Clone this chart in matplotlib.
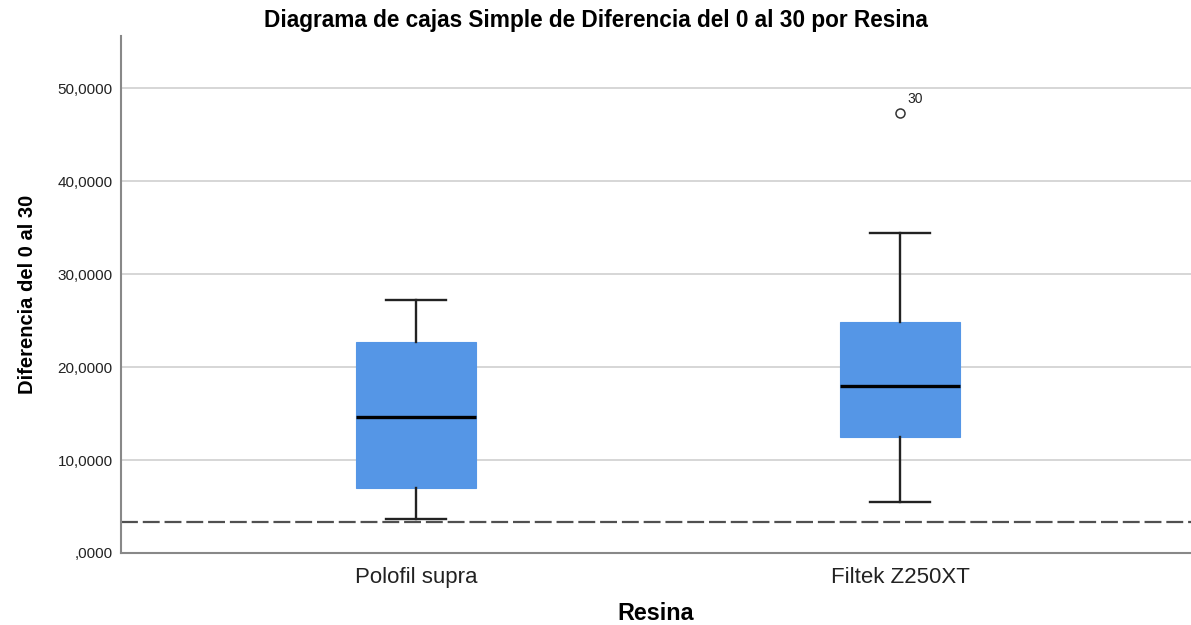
import matplotlib
matplotlib.use("Agg")
import matplotlib.pyplot as plt

plt.rcParams['font.family'] = ['Liberation Sans', 'DejaVu Sans']

categories = ["Polofil supra", "Filtek Z250XT"]
whisker_low = [3.66, 5.52]
q1 = [7.02, 12.44]
median = [14.65, 17.99]
q3 = [22.70, 24.87]
whisker_high = [27.20, 34.38]
outliers = [[], [47.28]]
outlier_labels = [[], ["30"]]
reference_line = 3.37
yticks = [0, 10, 20, 30, 40, 50]
ytick_labels = [",0000", "10,0000", "20,0000", "30,0000", "40,0000", "50,0000"]

fig = plt.figure(figsize=(11.91, 6.25), dpi=100)
ax = fig.add_axes([0.1016, 0.1152, 0.8984, 0.8272])

stats = []
for i, c in enumerate(categories):
    stats.append(dict(label=c, whislo=whisker_low[i], q1=q1[i], med=median[i],
                      q3=q3[i], whishi=whisker_high[i], fliers=outliers[i]))

ax.set_axisbelow(True)
ax.grid(axis='y', color='#d0d0d0', linewidth=1.2)
ax.axhline(reference_line, color='#505050', linewidth=1.6, dashes=(7.6, 2.2), zorder=1)

bp = ax.bxp(stats, positions=range(len(categories)), widths=0.248, patch_artist=True,
            showfliers=True,
            boxprops=dict(facecolor='#5596e6', edgecolor='#5596e6', linewidth=0.8),
            medianprops=dict(color='black', linewidth=2.4),
            whiskerprops=dict(color='#222222', linewidth=1.7),
            capprops=dict(color='#222222', linewidth=1.7),
            capwidths=0.124,
            flierprops=dict(marker='o', markersize=6.5, markerfacecolor='none',
                            markeredgecolor='#333333', markeredgewidth=1.1),
            zorder=3)

for i, labs in enumerate(outlier_labels):
    for v, lab in zip(outliers[i], labs):
        ax.annotate(lab, (i, v), xytext=(5, 5), textcoords='offset points',
                    fontsize=10, color='#222222', ha='left', va='bottom')

ax.set_xlim(-0.6095, 1.601)
ax.set_ylim(0, 55.6)
ax.set_yticks(yticks)
ax.set_yticklabels(ytick_labels, fontsize=11, color='#222222')
ax.set_xticks(range(len(categories)))
ax.set_xticklabels(categories, fontsize=16, color='#222222')
ax.tick_params(axis='both', length=0, pad=6)
ax.tick_params(axis='x', pad=10)

for s in ['top', 'right']:
    ax.spines[s].set_visible(False)
for s in ['left', 'bottom']:
    ax.spines[s].set_color('#888888')
    ax.spines[s].set_linewidth(1.5)

ax.set_ylabel("Diferencia del 0 al 30", fontsize=14.5, fontweight='bold', labelpad=15)
ax.set_xlabel("Resina", fontsize=16.8, fontweight='bold', labelpad=10)
fig.text(0.5, 0.967, "Diagrama de cajas Simple de Diferencia del 0 al 30 por Resina",
         ha='center', va='center', fontsize=16.3, fontweight='bold')

fig.savefig("out.png", dpi=100)
